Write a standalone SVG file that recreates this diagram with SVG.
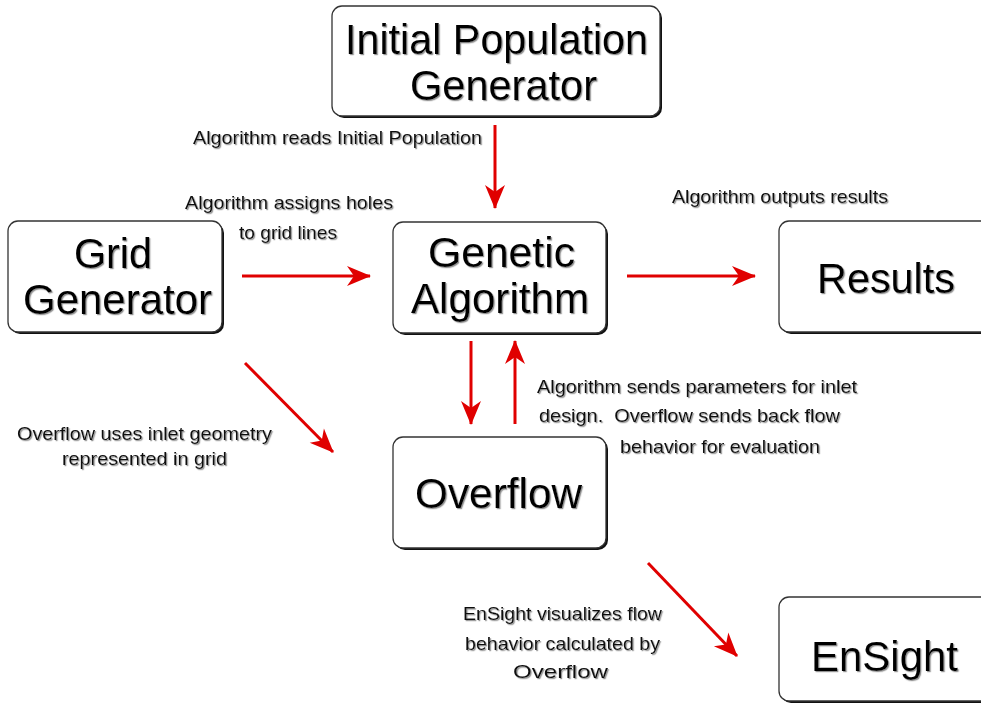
<svg xmlns="http://www.w3.org/2000/svg" width="981" height="704" viewBox="0 0 981 704">
<defs>
<style>
.box{fill:#fff;stroke:#333;stroke-width:1.3}
.sh{fill:#111}
.big{font-family:"Liberation Sans",Arial,sans-serif;font-size:43px;fill:#000;text-anchor:middle}
.lbl{font-family:"Liberation Sans",Arial,sans-serif;font-size:19px;fill:#111}
.t{filter:url(#ts)}
.arr{stroke:#e00000;stroke-width:3;fill:none;marker-end:url(#ah)}
</style>
<filter id="ts" x="-5%" y="-20%" width="110%" height="140%">
<feDropShadow dx="1.2" dy="1.2" stdDeviation="0.7" flood-color="#888" flood-opacity="0.9"/>
</filter>
<marker id="ah" markerUnits="userSpaceOnUse" markerWidth="30" markerHeight="24" viewBox="-24 -12 26 24" refX="0" refY="0" orient="auto">
<path d="M1,0 L-23,-10 L-16,0 L-23,10 Z" fill="#e00000"/>
</marker>
</defs>

<g id="node-initial-population-generator">
<rect class="sh" x="334" y="8" width="328" height="110" rx="10"/>
<rect class="box" x="332" y="6" width="328" height="110" rx="10"/>
<g class="t">
<text class="big" x="496.5" y="54" textLength="303" lengthAdjust="spacingAndGlyphs">Initial Population</text>
<text class="big" x="503.5" y="100" textLength="187" lengthAdjust="spacingAndGlyphs">Generator</text>
</g>
</g>

<g id="node-grid-generator">
<rect class="sh" x="10" y="223" width="214" height="111" rx="10"/>
<rect class="box" x="8" y="221" width="214" height="111" rx="10"/>
<g class="t">
<text class="big" x="113" y="268" textLength="78" lengthAdjust="spacingAndGlyphs">Grid</text>
<text class="big" x="117.5" y="314" textLength="189" lengthAdjust="spacingAndGlyphs">Generator</text>
</g>
</g>

<g id="node-genetic-algorithm">
<rect class="sh" x="395" y="224" width="213" height="111" rx="10"/>
<rect class="box" x="393" y="222" width="213" height="111" rx="10"/>
<g class="t">
<text class="big" x="501.5" y="267" textLength="147" lengthAdjust="spacingAndGlyphs">Genetic</text>
<text class="big" x="500" y="313" textLength="178" lengthAdjust="spacingAndGlyphs">Algorithm</text>
</g>
</g>

<g id="node-results">
<rect class="sh" x="781" y="223" width="220" height="111" rx="10"/>
<rect class="box" x="779" y="221" width="220" height="111" rx="10"/>
<g class="t">
<text class="big" x="886" y="293" textLength="138" lengthAdjust="spacingAndGlyphs">Results</text>
</g>
</g>

<g id="node-overflow">
<rect class="sh" x="395" y="439" width="213" height="111" rx="10"/>
<rect class="box" x="393" y="437" width="213" height="111" rx="10"/>
<g class="t">
<text class="big" x="498.5" y="508" textLength="167" lengthAdjust="spacingAndGlyphs">Overflow</text>
</g>
</g>

<g id="node-ensight">
<rect class="sh" x="781" y="599" width="220" height="104" rx="10"/>
<rect class="box" x="779" y="597" width="220" height="104" rx="10"/>
<g class="t">
<text class="big" x="884.5" y="671" textLength="147" lengthAdjust="spacingAndGlyphs">EnSight</text>
</g>
</g>

<g id="connectors">
<line class="arr" x1="495" y1="125" x2="495" y2="208"/>
<line class="arr" x1="242" y1="276" x2="370" y2="276"/>
<line class="arr" x1="627" y1="276" x2="755" y2="276"/>
<line class="arr" x1="471" y1="341" x2="471" y2="424"/>
<line class="arr" x1="515" y1="424" x2="515" y2="341"/>
<line class="arr" x1="245" y1="363" x2="333" y2="452"/>
<line class="arr" x1="648" y1="563" x2="737" y2="656"/>
</g>

<g id="labels" class="t">
<text class="lbl" x="193" y="144" textLength="289" lengthAdjust="spacingAndGlyphs">Algorithm reads Initial Population</text>
<text class="lbl" x="185" y="209" textLength="208" lengthAdjust="spacingAndGlyphs">Algorithm assigns holes</text>
<text class="lbl" x="239" y="239" textLength="98" lengthAdjust="spacingAndGlyphs">to grid lines</text>
<text class="lbl" x="672" y="203" textLength="216" lengthAdjust="spacingAndGlyphs">Algorithm outputs results</text>
<text class="lbl" x="537" y="393" textLength="320" lengthAdjust="spacingAndGlyphs">Algorithm sends parameters for inlet</text>
<text class="lbl" x="539" y="422" textLength="301" lengthAdjust="spacingAndGlyphs">design.&#160; Overflow sends back flow</text>
<text class="lbl" x="620" y="453" textLength="200" lengthAdjust="spacingAndGlyphs">behavior for evaluation</text>
<text class="lbl" x="17" y="440" textLength="255" lengthAdjust="spacingAndGlyphs">Overflow uses inlet geometry</text>
<text class="lbl" x="62" y="465" textLength="165" lengthAdjust="spacingAndGlyphs">represented in grid</text>
<text class="lbl" x="463" y="620" textLength="199" lengthAdjust="spacingAndGlyphs">EnSight visualizes flow</text>
<text class="lbl" x="465" y="650" textLength="195" lengthAdjust="spacingAndGlyphs">behavior calculated by</text>
<text class="lbl" x="513" y="678" textLength="95" lengthAdjust="spacingAndGlyphs">Overflow</text>
</g>
</svg>
